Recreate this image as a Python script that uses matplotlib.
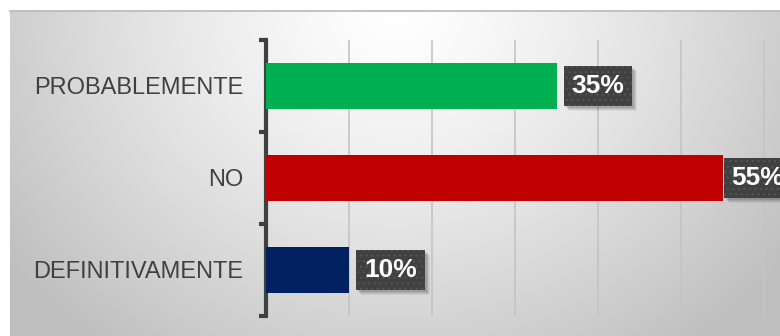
import numpy as np
import matplotlib
matplotlib.use("Agg")
import matplotlib.pyplot as plt
import matplotlib.patches as mpatches
from matplotlib import font_manager as fm

categories = ["DEFINITIVAMENTE", "NO", "PROBABLEMENTE"]
values = [0.10, 0.55, 0.35]
labels = ["10%", "55%", "35%"]
colors = ["#002060", "#C00000", "#00B050"]


def find_font(name):
    for f in fm.findSystemFonts():
        if f.endswith(name):
            return fm.FontProperties(fname=f)
    return None


reg = find_font("LiberationSans-Regular.ttf") or fm.FontProperties(family="DejaVu Sans")
bold = find_font("LiberationSans-Bold.ttf") or fm.FontProperties(family="DejaVu Sans", weight="bold")

W, H = 780, 336
fig = plt.figure(figsize=(W / 100, H / 100), dpi=100)
fig.patch.set_facecolor("white")

# background radial gradient panel
bg = fig.add_axes([10 / W, 0, 770 / W, 325 / H])
ny, nx = 200, 400
yy, xx = np.mgrid[0:ny, 0:nx]
cx, cy = nx * 0.5, ny * 0.0
d = np.sqrt(((xx - cx) / (nx * 0.62)) ** 2 + ((yy - cy) / (ny * 1.3)) ** 2)
d = np.clip(d, 0, 1)
val = 1.0 - 0.25 * d ** 1.3
img = np.dstack([val, val, val])
bg.imshow(img, aspect="auto", extent=[0, 1, 0, 1], origin="upper")
bg.set_xlim(0, 1)
bg.set_ylim(0, 1)
bg.axis("off")
bg.plot([0, 1], [1, 1], color="#b8b8b8", lw=1.2, transform=bg.transAxes, clip_on=False)

# main axes
left, right, top, bottom = 266, 780, 40, 316
ax = fig.add_axes([left / W, (H - bottom) / H, (right - left) / W, (bottom - top) / H])
ax.patch.set_alpha(0)
xmax = (right - left) / 830.0
ax.set_xlim(0, xmax)
ax.set_ylim(-0.5, 2.5)

y = np.arange(len(categories))
ax.barh(y, values, height=0.5, color=colors, zorder=3)

ax.set_xticks(np.arange(0.1, 0.61, 0.1))
ax.xaxis.grid(True, color="#c4c4c4", lw=1.2, zorder=0)
ax.tick_params(axis="x", length=0, labelbottom=False)
ax.set_yticks(y)
ax.set_yticklabels(categories, color="#404040")
for tl in ax.get_yticklabels():
    tl.set_fontproperties(reg)
    tl.set_fontsize(17)
ax.tick_params(axis="y", length=0, pad=16.5)
ax.set_yticks([-0.5, 0.5, 1.5, 2.5], minor=True)
ax.tick_params(axis="y", which="minor", length=5, width=3, color="#404040")

for s in ["top", "right", "bottom"]:
    ax.spines[s].set_visible(False)
ax.spines["left"].set_color("#404040")
ax.spines["left"].set_linewidth(3)

plt.rcParams["hatch.linewidth"] = 0.8
offsets = [15, 9, 15]
texts = []
for yi, v, lab, off in zip(y, values, labels, offsets):
    t = ax.annotate(lab, xy=(v, yi), xytext=(off, 0), textcoords="offset pixels",
                    ha="left", va="center", color="white", fontproperties=bold,
                    zorder=5, annotation_clip=False,
                    bbox=dict(boxstyle="square,pad=0.3", facecolor="#404040", edgecolor="#555555",
                              linewidth=0, hatch="..."))
    t.set_fontsize(19)
    texts.append(t)

# soft shadows behind the label boxes
fig.canvas.draw()
renderer = fig.canvas.get_renderer()
inv = ax.transData.inverted()
for t in texts:
    bb = t.get_bbox_patch().get_window_extent(renderer)
    for k, a in [(5, 0.05), (4, 0.07), (3, 0.09), (2, 0.09)]:
        (x0, y0), (x1, y1) = inv.transform([(bb.x0 + k, bb.y0 - k), (bb.x1 + k, bb.y1 - k)])
        ax.add_patch(mpatches.Rectangle((x0, y0), x1 - x0, y1 - y0, facecolor="black",
                                        alpha=a, linewidth=0, zorder=4, clip_on=False))

fig.savefig("out.png", dpi=100)
